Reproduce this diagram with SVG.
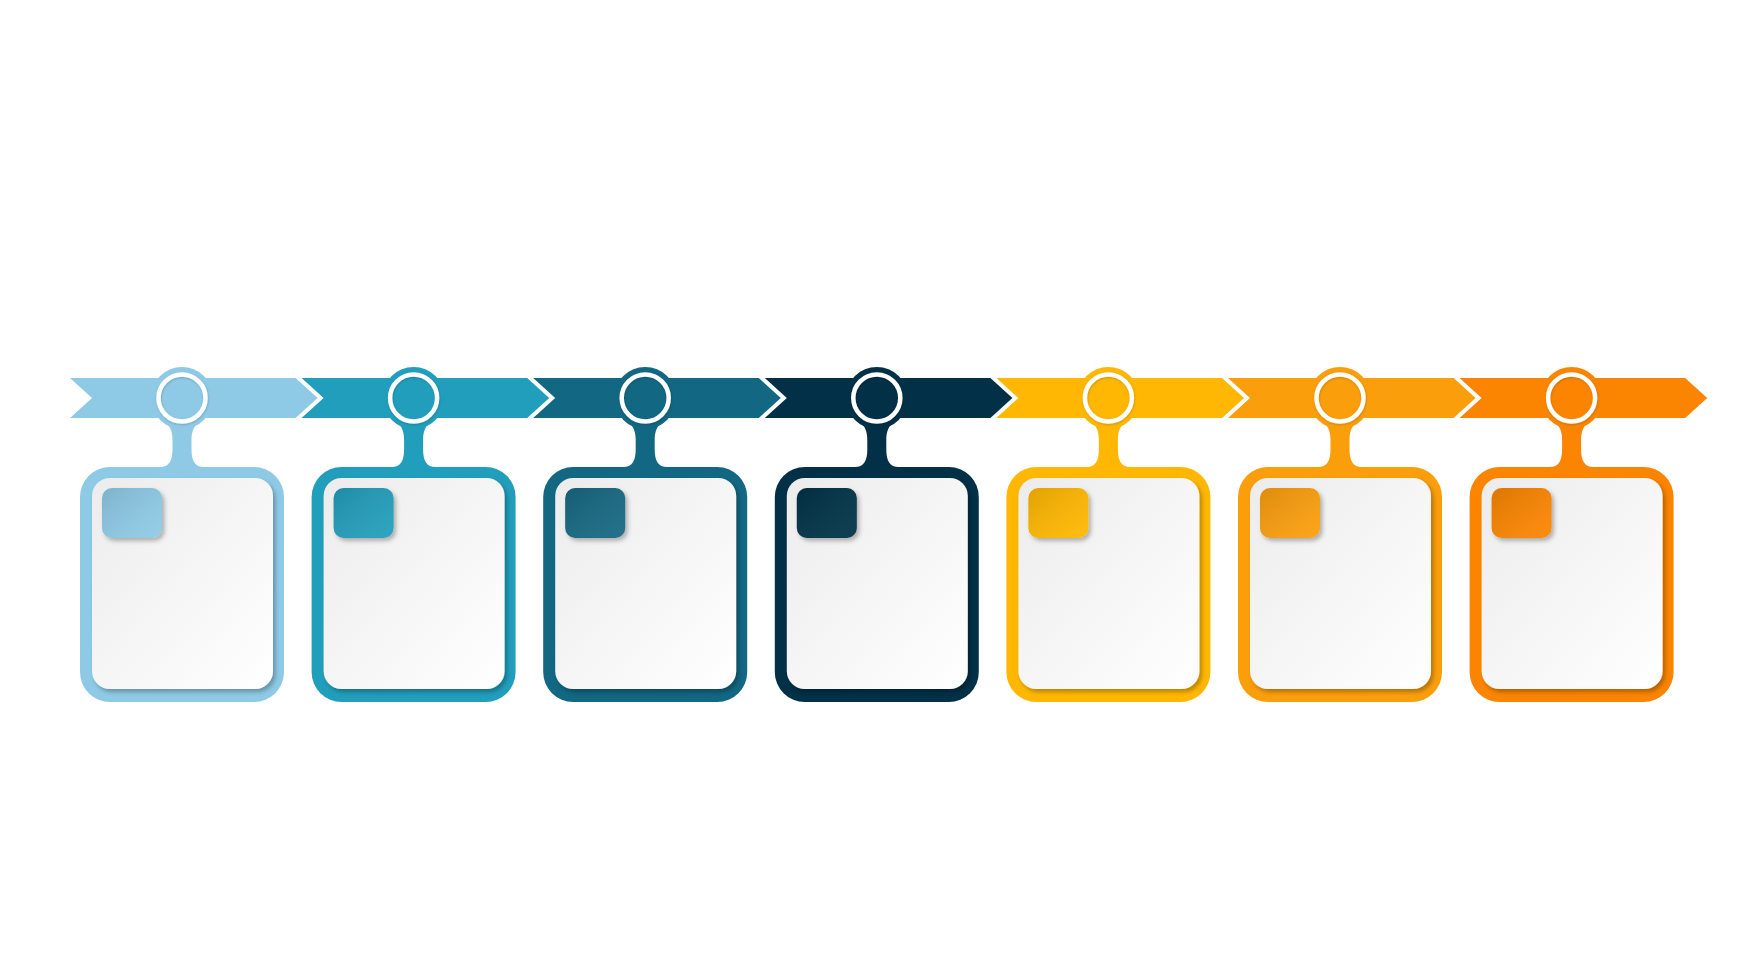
<svg xmlns="http://www.w3.org/2000/svg" width="1742" height="980" viewBox="0 0 1742 980">
  <defs>
    <linearGradient id="panelGrad" x1="0" y1="0" x2="1" y2="1">
      <stop offset="0" stop-color="#ececec"/>
      <stop offset="1" stop-color="#ffffff"/>
    </linearGradient>
    <linearGradient id="squareShade" x1="0" y1="0" x2="1" y2="1">
      <stop offset="0" stop-color="#000" stop-opacity="0.12"/>
      <stop offset="1" stop-color="#fff" stop-opacity="0.06"/>
    </linearGradient>
    <filter id="shadow" x="-20%" y="-20%" width="140%" height="140%">
      <feDropShadow dx="2.5" dy="3" stdDeviation="2" flood-color="#000" flood-opacity="0.28"/>
    </filter>
    <filter id="ringShadow" x="-30%" y="-30%" width="160%" height="160%">
      <feDropShadow dx="0.5" dy="1" stdDeviation="1" flood-color="#000" flood-opacity="0.2"/>
    </filter>
    <g id="nodeShape">
      <circle class="fillc" cx="0" cy="398" r="31"/>
      <path class="fillc" d="M -17,422 C -12,426 -9.5,431 -9.5,440 L -9.5,449 C -9.5,461 -13,467 -22,467 L 22,467 C 13,467 9.5,461 9.5,449 L 9.5,440 C 9.5,431 12,426 17,422 Z"/>
      <rect class="fillc" x="-102" y="467" width="204" height="235" rx="30"/>
      <rect x="-90" y="478" width="181" height="211" rx="18" fill="url(#panelGrad)" filter="url(#shadow)"/>
      <rect class="fillc" x="-80" y="488" width="60" height="50" rx="10" filter="url(#shadow)"/>
      <rect x="-80" y="488" width="60" height="50" rx="10" fill="url(#squareShade)"/>
      <circle cx="0" cy="398" r="23.5" fill="none" stroke="#ffffff" stroke-width="4.5" filter="url(#ringShadow)"/>
    </g>
  </defs>
  <style>
    .c1 { fill: #8ecae6; }
    .c2 { fill: #219ebc; }
    .c3 { fill: #126782; }
    .c4 { fill: #023047; }
    .c5 { fill: #ffb703; }
    .c6 { fill: #fb9e0c; }
    .c7 { fill: #fb8500; }
    .fillc { fill: inherit; }
  </style>
  <rect x="0" y="0" width="1742" height="980" fill="#ffffff"/>

  <g id="connectors">
    <polygon class="c1" points="70,378 295.6,378 317.6,398 295.6,418 70,418 92,398"/>
    <polygon class="c2" points="301.6,378 527.2,378 549.2,398 527.2,418 301.6,418 323.6,398"/>
    <polygon class="c3" points="533.2,378 758.8,378 780.8,398 758.8,418 533.2,418 555.2,398"/>
    <polygon class="c4" points="764.8,378 990.4,378 1012.4,398 990.4,418 764.8,418 786.8,398"/>
    <polygon class="c5" points="996.4,378 1222,378 1244,398 1222,418 996.4,418 1018.4,398"/>
    <polygon class="c6" points="1228,378 1453.6,378 1475.6,398 1453.6,418 1228,418 1250,398"/>
    <polygon class="c7" points="1459.6,378 1685.2,378 1707.2,398 1685.2,418 1459.6,418 1481.6,398"/>
  </g>

  <g id="node1" class="c1" transform="translate(182,0)"><use href="#nodeShape"/></g>
  <g id="node2" class="c2" transform="translate(413.6,0)"><use href="#nodeShape"/></g>
  <g id="node3" class="c3" transform="translate(645.2,0)"><use href="#nodeShape"/></g>
  <g id="node4" class="c4" transform="translate(876.8,0)"><use href="#nodeShape"/></g>
  <g id="node5" class="c5" transform="translate(1108.4,0)"><use href="#nodeShape"/></g>
  <g id="node6" class="c6" transform="translate(1340,0)"><use href="#nodeShape"/></g>
  <g id="node7" class="c7" transform="translate(1571.6,0)"><use href="#nodeShape"/></g>
</svg>
